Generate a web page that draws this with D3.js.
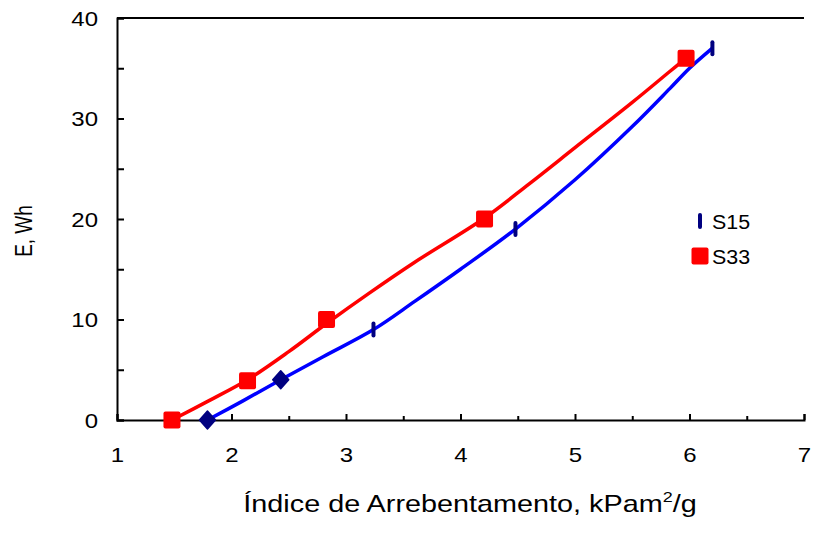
<!DOCTYPE html>
<html><head><meta charset="utf-8">
<script src="https://cdn.jsdelivr.net/npm/d3@7"></script>
<style>body{margin:0;background:#fff}svg{display:block}text{font-family:"Liberation Sans",Arial,sans-serif}</style>
</head><body>
<svg id="c" width="815" height="534"></svg>
<script>
// marker points
const s15X = [1.79, 2.43, 3.24, 4.48, 6.2];
const s15Y = [0, 4, 9, 19, 37];
const s15Shape = ["diamond", "diamond", "bar", "bar", "bar"];
const s33X = [1.48, 2.14, 2.83, 4.21, 5.97];
const s33Y = [0, 3.9, 10, 20, 36];
// curve points
const s15LineX = [1.79, 2.1, 2.43, 2.8, 3.24, 3.6, 4.0, 4.48, 5.0, 5.5, 5.83, 6.0, 6.2];
const s15LineY = [0, 1.9, 4, 6.3, 9, 11.8, 15.0, 19, 23.9, 29.2, 33.0, 35.0, 37];
const s33LineX = [1.48, 1.8, 2.14, 2.5, 2.83, 3.2, 3.6, 4.21, 4.6, 5.0, 5.5, 5.83, 5.97];
const s33LineY = [0, 1.9, 4.0, 6.8, 9.6, 12.6, 15.7, 20.1, 23.5, 27.1, 31.6, 34.7, 36];
const xTicks = [1, 2, 3, 4, 5, 6, 7];
const yTicks = [0, 10, 20, 30, 40];
const xMinor = [1.5, 2.5, 3.5, 4.5, 5.5, 6.5];
const yMinor = [5, 15, 25, 35];

const svg = d3.select("#c");
const x = d3.scaleLinear().domain([1, 7]).range([117, 804]);
const y = d3.scaleLinear().domain([0, 40]).range([420, 18]);
const SX = 1.2;

svg.append("line").attr("x1", 117).attr("x2", 804).attr("y1", 18).attr("y2", 18)
  .attr("stroke", "#000").attr("stroke-width", 2);

svg.append("g").attr("class", "xa").attr("transform", "translate(0,420)")
  .call(d3.axisBottom(x).tickValues(xTicks).tickSize(-6).tickPadding(0).tickFormat(d3.format("d")));
svg.append("g").attr("transform", "translate(0,420)")
  .call(d3.axisBottom(x).tickValues(xMinor).tickSize(-4).tickFormat(""))
  .call(g => g.select(".domain").remove());
svg.append("g").attr("class", "ya").attr("transform", "translate(117,0)")
  .call(d3.axisLeft(y).tickValues(yTicks).tickSize(-7).tickPadding(0).tickFormat(d3.format("d")));
svg.append("g").attr("transform", "translate(117,0)")
  .call(d3.axisLeft(y).tickValues(yMinor).tickSize(-7).tickFormat(""))
  .call(g => g.select(".domain").remove());
svg.selectAll(".domain").attr("stroke-width", 2).attr("stroke", "#000");
svg.selectAll(".tick line").attr("stroke-width", 2).attr("stroke", "#000");
svg.selectAll(".tick text").attr("font-size", 20).attr("fill", "#000")
  .attr("font-family", "'Liberation Sans', Arial, sans-serif");
svg.selectAll(".xa .tick text").attr("y", 0).attr("dy", 0)
  .attr("transform", `translate(0,42) scale(${SX},1)`);
svg.selectAll(".ya .tick text").attr("x", 0).attr("dy", "0.35em")
  .attr("transform", `translate(-19,0) scale(${SX},1)`);

const line = d3.line().x(d => x(d[0])).y(d => y(d[1])).curve(d3.curveCatmullRom.alpha(0.5));
const s15 = s15X.map((v, i) => [v, s15Y[i], s15Shape[i]]);
const s33 = s33X.map((v, i) => [v, s33Y[i]]);
const s15Line = s15LineX.map((v, i) => [v, s15LineY[i]]);
const s33Line = s33LineX.map((v, i) => [v, s33LineY[i]]);

svg.append("path").datum(s15Line).attr("d", line).attr("fill", "none")
  .attr("stroke", "#0000FF").attr("stroke-width", 3.5).attr("stroke-linejoin", "round");
svg.append("path").datum(s33Line).attr("d", line).attr("fill", "none")
  .attr("stroke", "#FF0000").attr("stroke-width", 3.5).attr("stroke-linejoin", "round");

function drawMarker(g, shape, cx, cy) {
  if (shape === "diamond") {
    g.append("path").attr("d", `M${cx},${cy-9}L${cx+8},${cy}L${cx},${cy+9}L${cx-8},${cy}Z`)
      .attr("fill", "#000080").attr("stroke", "#000080").attr("stroke-linejoin", "round").attr("stroke-width", 1.5);
  } else if (shape === "bar") {
    g.append("rect").attr("x", cx - 2).attr("y", cy - 8).attr("width", 4).attr("height", 16)
      .attr("rx", 2).attr("fill", "#000080");
  } else {
    g.append("rect").attr("x", cx - 8.5).attr("y", cy - 8.5).attr("width", 17).attr("height", 17)
      .attr("rx", 2).attr("fill", "#FF0000");
  }
}
const mg = svg.append("g");
s15.forEach(d => drawMarker(mg, d[2], x(d[0]), y(d[1])));
s33.forEach(d => drawMarker(mg, "square", x(d[0]), y(d[1])));

// legend
const lg = svg.append("g");
drawMarker(lg, "bar", 700, 221);
lg.append("text").attr("transform", "translate(712,229) scale(1.07,1)").attr("font-size", 20).text("S15");
drawMarker(lg, "square", 700, 256);
lg.append("text").attr("transform", "translate(712,264) scale(1.07,1)").attr("font-size", 20).text("S33");

// axis titles
const xt = svg.append("text").attr("transform", `translate(470,512) scale(${SX},1)`).attr("text-anchor", "middle")
  .attr("font-size", 24).attr("fill", "#000");
xt.append("tspan").text("Índice de Arrebentamento, kPam");
xt.append("tspan").attr("font-size", 15).attr("dy", -10).text("2");
xt.append("tspan").attr("dy", 10).text("/g");
svg.append("text").attr("transform", `translate(32,231) scale(1.22,1) rotate(-90)`).attr("text-anchor", "middle")
  .attr("font-size", 19).attr("fill", "#000").text("E, Wh");
</script>
</body></html>
